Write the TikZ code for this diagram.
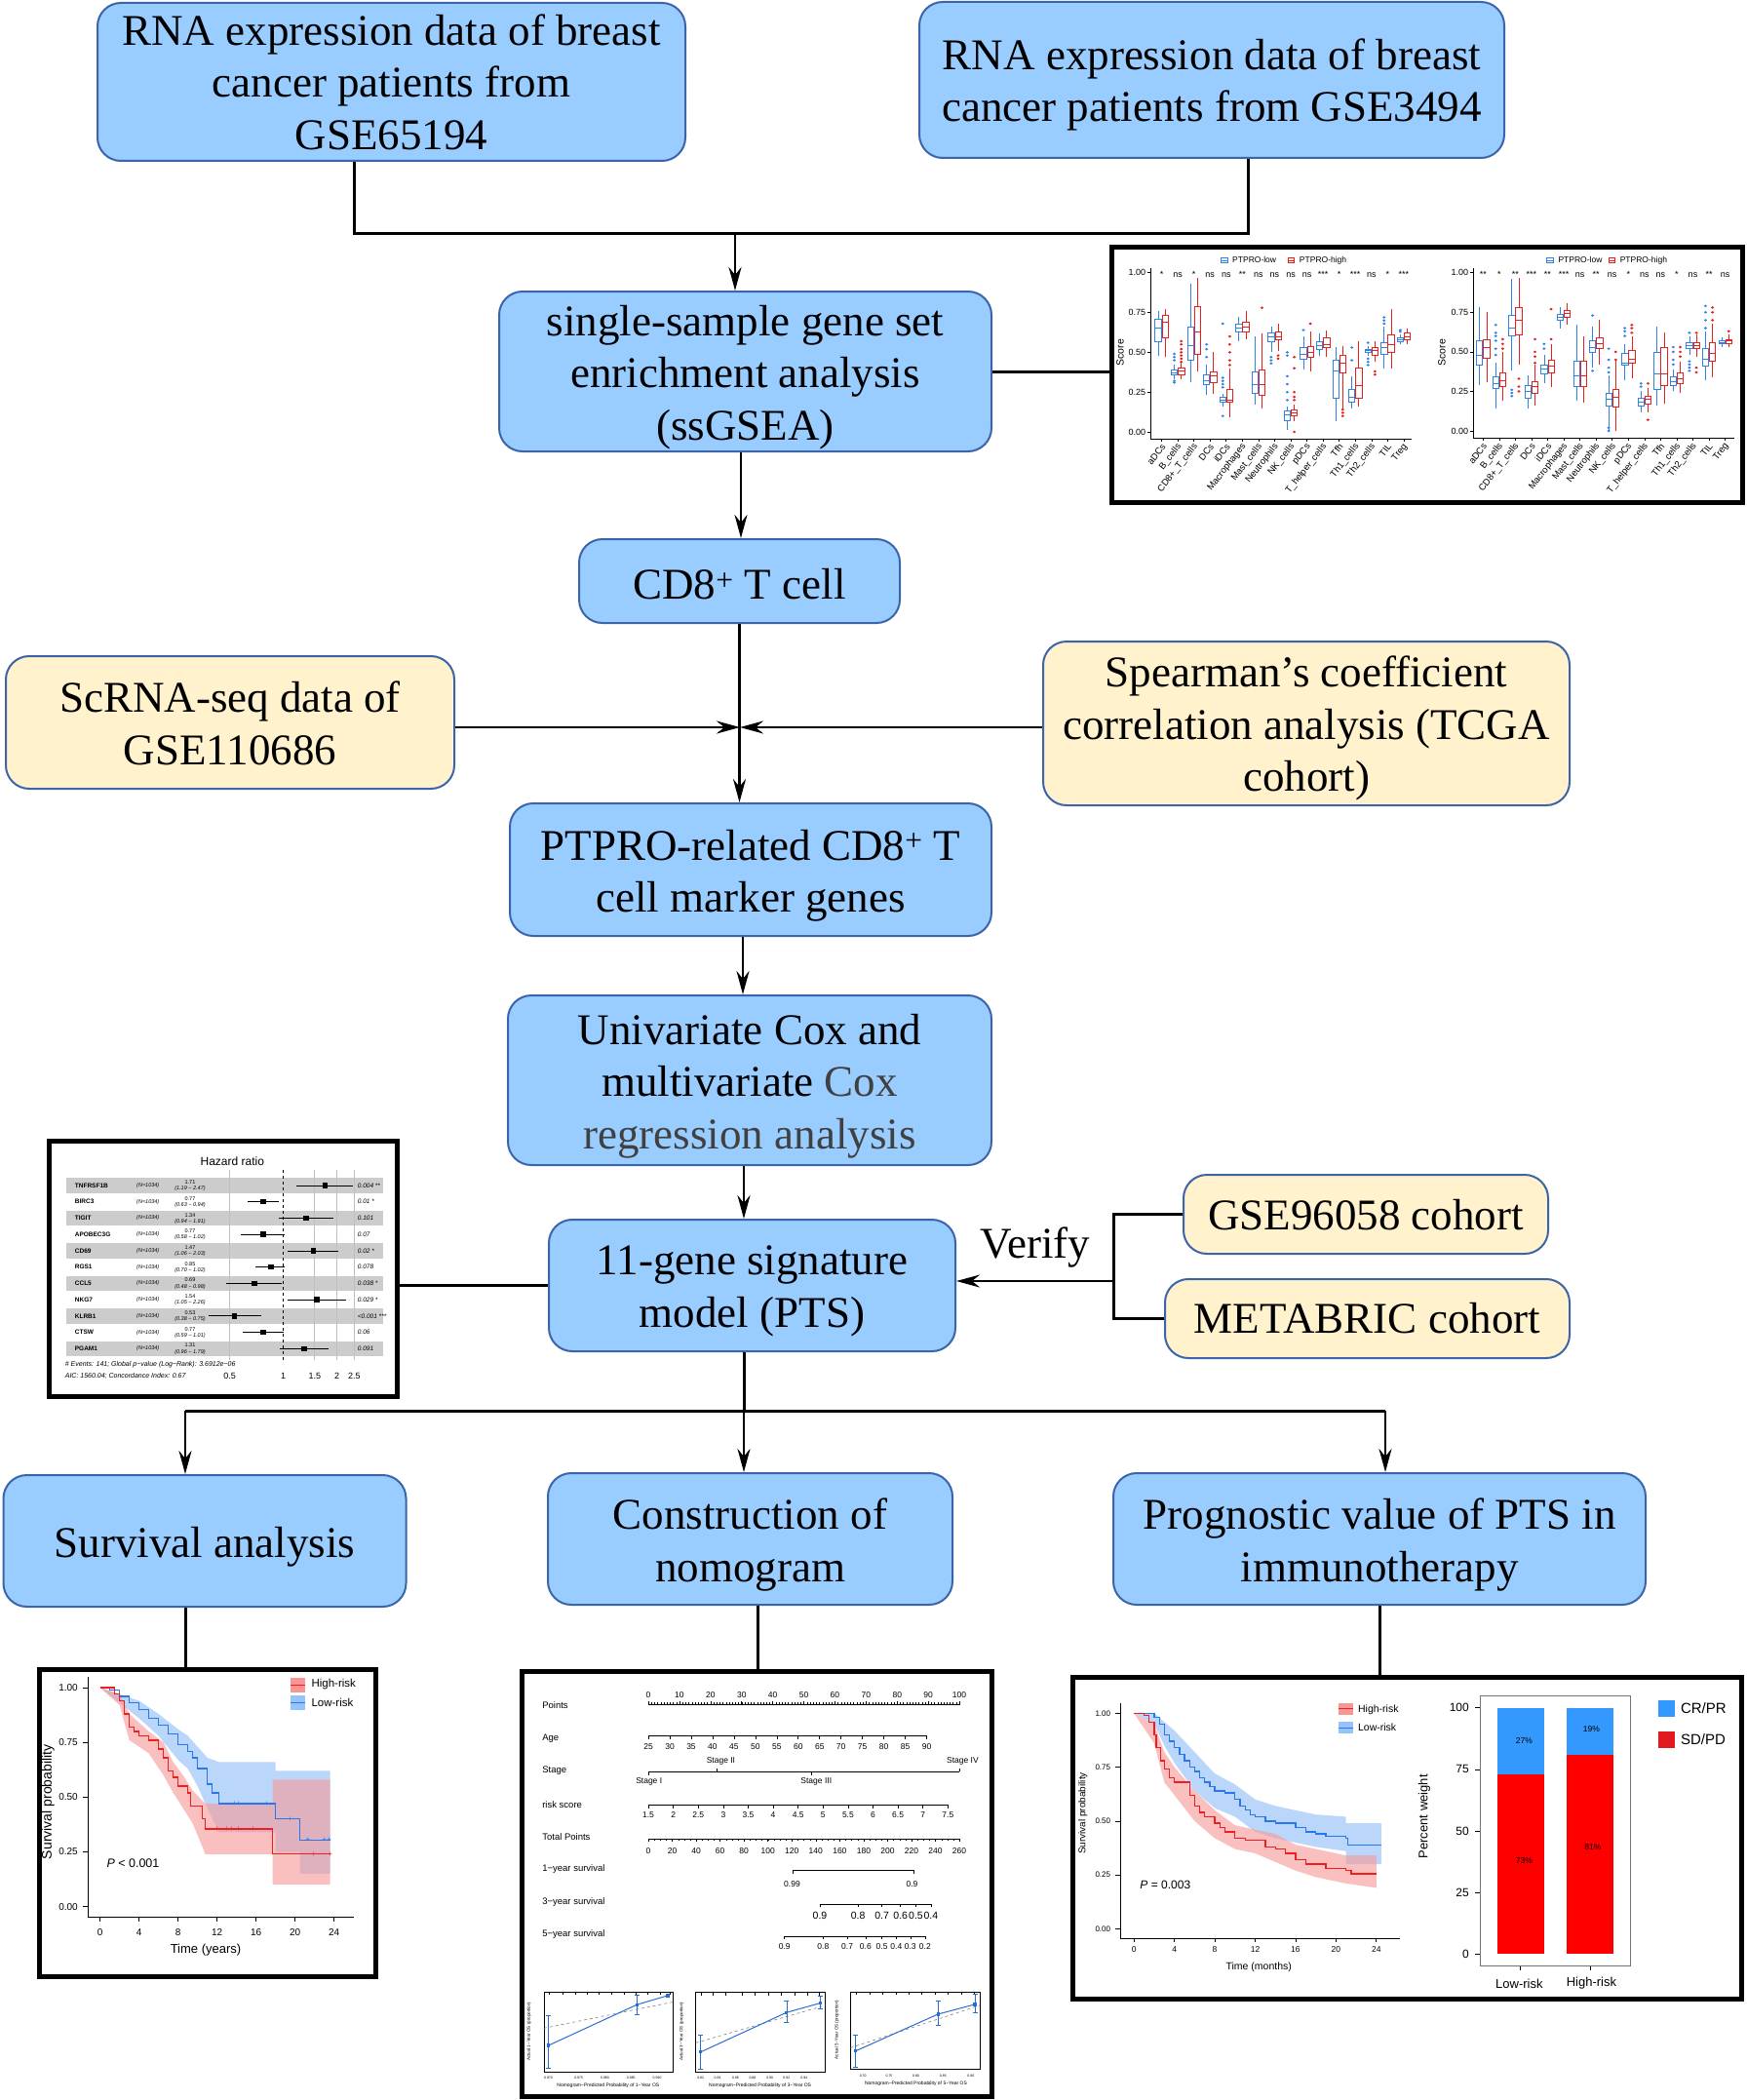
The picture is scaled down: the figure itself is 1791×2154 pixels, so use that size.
\documentclass[tikz,border=0pt]{standalone}
\usepackage{fontspec}
\setmainfont{Liberation Serif}
\newfontfamily\arial{Liberation Sans}
\usetikzlibrary{arrows.meta,calc}
\definecolor{blufill}{RGB}{153,204,255}
\definecolor{yelfill}{RGB}{255,242,204}
\definecolor{bordc}{RGB}{59,100,170}
\definecolor{txtgray}{RGB}{64,64,64}
\definecolor{kmred}{RGB}{240,30,30}
\definecolor{kmblue}{RGB}{40,120,235}
\definecolor{bandred}{RGB}{248,150,150}
\definecolor{bandblue}{RGB}{150,195,250}
\definecolor{barblue}{RGB}{51,153,255}
\definecolor{barred}{RGB}{255,0,0}
\definecolor{sdred}{RGB}{225,25,30}
\definecolor{bplow}{RGB}{50,130,230}
\definecolor{bphigh}{RGB}{235,30,30}
\definecolor{calblue}{RGB}{40,110,210}
\newcommand{\fs}[1]{\fontsize{#1}{#1}\selectfont}
\newcommand{\bxp}[7]{%
  \draw[#1,line width=0.7pt] (#2,{\yz-#6/100*\ys}) -- (#2,{\yz-#4/100*\ys});
  \draw[#1,line width=0.7pt] (#2,{\yz-#5/100*\ys}) -- (#2,{\yz-#7/100*\ys});
  \draw[#1,line width=0.7pt,fill=white] ({#2-7.5},{\yz-#4/100*\ys}) rectangle ({#2+7.5},{\yz-#5/100*\ys});
  \draw[#1,line width=1pt] ({#2-7.5},{\yz-#3/100*\ys}) -- ({#2+7.5},{\yz-#3/100*\ys});}
\begin{document}
\begin{tikzpicture}[x=1pt,y=-1pt,
  flow/.style={draw=bordc, line width=2pt, rounded corners=24pt, inner sep=0pt},
  lbl/.style={align=center, inner sep=0pt, font=\fontsize{45}{53.5}\selectfont, yshift=-6pt},
  bluebox/.style={flow, fill=blufill},
  yelbox/.style={flow, fill=yelfill},
  conn/.style={line width=3pt, black},
  arr/.style={line width=2.6pt, black, -{Stealth[length=24pt,width=13pt,inset=8pt]}},
  inset/.style={draw=black, line width=5pt, fill=white, inner sep=0pt}]
\useasboundingbox (0,0) rectangle (1791,2154);
\fill[white] (0,0) rectangle (1791,2154);

% ---------------- flow nodes
\node[bluebox, minimum width=603pt, minimum height=162pt, label={[lbl,yshift=6pt]center:{RNA expression data of breast\\cancer patients from\\GSE65194}}] (A) at (401.5,84) {};
\node[bluebox, minimum width=600pt, minimum height=160pt, label={[lbl,yshift=1pt]center:{RNA expression data of breast\\cancer patients from GSE3494}}] (B) at (1243,82) {};
\node[bluebox, minimum width=505pt, minimum height=164pt, label={[lbl]center:{single-sample gene set\\enrichment analysis\\(ssGSEA)}}] (ss) at (764.5,381) {};
\node[bluebox, minimum width=329pt, minimum height=86pt, label={[lbl,yshift=3pt]center:{CD8\textsuperscript{+} T cell}}] (cd8) at (758.5,596) {};
\node[yelbox, minimum width=460pt, minimum height=136pt, label={[lbl,yshift=5pt]center:{ScRNA-seq data of\\GSE110686}}] (sc) at (236,741) {};
\node[yelbox, minimum width=540pt, minimum height=168pt, label={[lbl,yshift=1pt]center:{Spearman’s coefficient\\correlation analysis (TCGA\\cohort)}}] (sp) at (1340,742) {};
\node[bluebox, minimum width=494pt, minimum height=136pt, label={[lbl]center:{PTPRO-related CD8\textsuperscript{+} T\\cell marker genes}}] (ptpro) at (770,892) {};
\node[bluebox, minimum width=496pt, minimum height=174pt, label={[lbl]center:{Univariate Cox and\\multivariate \textcolor{txtgray}{Cox}\\\textcolor{txtgray}{regression analysis}}}] (uni) at (769,1108) {};
\node[bluebox, minimum width=417pt, minimum height=135pt, label={[lbl]center:{11-gene signature\\model (PTS)}}] (gene) at (771.5,1318.5) {};
\node[yelbox, minimum width=374pt, minimum height=81pt, label={[lbl,yshift=5pt]center:{GSE96058 cohort}}] (g96) at (1401,1245.5) {};
\node[yelbox, minimum width=415pt, minimum height=81pt, label={[lbl,yshift=6pt]center:{METABRIC cohort}}] (meta) at (1402.5,1352.5) {};
\node[font=\fontsize{45}{53.5}\selectfont, inner sep=0pt] (verify) at (1062,1279) {Verify};
\node[bluebox, minimum width=413pt, minimum height=135pt, label={[lbl]center:{Survival analysis}}] (surv) at (210,1580.5) {};
\node[bluebox, minimum width=415pt, minimum height=135pt, label={[lbl]center:{Construction of\\nomogram}}] (cons) at (769.5,1578.5) {};
\node[bluebox, minimum width=546pt, minimum height=135pt, label={[lbl]center:{Prognostic value of PTS in\\immunotherapy}}] (prog) at (1415,1578.5) {};

% ---------------- inset frames
\node[inset, minimum width=647pt, minimum height=262pt] (bp) at (1464,384) {};
\node[inset, minimum width=357pt, minimum height=262pt] (fp) at (228.5,1301) {};
\node[inset, minimum width=345pt, minimum height=315pt] (km) at (212.5,1869.5) {};
\node[inset, minimum width=482pt, minimum height=436pt] (nomo) at (776,1932) {};
\node[inset, minimum width=686pt, minimum height=330pt] (imm) at (1443,1885) {};

% ---------------- box plot inset
\begin{scope}[shift={(1130,245)},xscale=0.4216,yscale=0.3311,font=\arial\fs{9}]
 \def\yz{598}\def\ys{493}
 \draw[line width=0.6pt] (120,90) -- (120,620) -- (755,620);
 \foreach \v/\l in {0/0.00,25/0.25,50/0.50,75/0.75,100/1.00} {
   \draw[line width=0.6pt] (112,{\yz-\v/100*\ys}) -- (120,{\yz-\v/100*\ys});
   \node[anchor=east,inner sep=1pt] at (110,{\yz-\v/100*\ys}) {\l};}
 \foreach \i in {0,...,15} \draw[line width=0.6pt] ({146+\i*39.27},620) -- ({146+\i*39.27},628);
 \foreach \i/\ua/\ub/\uc/\ud/\uf/\ha/\hb/\hc/\hd/\hf in {
  0/65/57/71/48/76/69/59/73/47/77, 1/37/36/39/33/42/38/36/40/33/44,
  2/54/45/66/31/93/63/49/79/38/97, 3/32/30/36/23/42/35/31/38/24/50,
  4/20/19/22/16/24/20/19/27/9/40, 5/65/63/68/57/72/66/63/69/58/76,
  6/30/24/38/17/60/30/23/39/15/62, 7/60/57/62/50/66/60/58/63/51/68,
  8/11/7/13/1/16/12/10/14/7/17, 9/49/46/53/39/60/50/47/54/38/63,
  10/54/52/57/48/62/55/53/59/47/64, 11/38/21/45/7/53/43/37/48/14/54,
  12/22/19/27/15/35/29/21/40/16/57, 13/51/50/52/48/54/51/48/53/44/57,
  14/53/49/56/40/66/55/50/61/40/77, 15/58/57/59/55/61/60/58/62/55/65} {
   \pgfmathsetmacro\xa{146+\i*39.27-8.5}
   \pgfmathsetmacro\xb{146+\i*39.27+8.5}
   \bxp{bplow}{\xa}{\ua}{\ub}{\uc}{\ud}{\uf}
   \bxp{bphigh}{\xb}{\ha}{\hb}{\hc}{\hd}{\hf}}
 \foreach \i/\lst in {1/{31,32,45,47,49},3/{47,52,55},4/{10,28,30,32,34,68},7/{43,45,47},8/{20,25,30,35,48,50},9/{64},12/{45,53},13/{42,44,46,56},14/{68,70,72},15/{63,64}}
   \foreach \v in \lst \fill[bplow] ({146+\i*39.27-8.5},{\yz-\v/100*\ys}) circle[radius=4];
 \foreach \i/\lst in {1/{44,46,48,50,52,55,57},4/{42,45,50,55,60},6/{78},7/{46,48},8/{0,20,22,25,40,47},9/{68},11/{10,12,14},13/{36,38}}
   \foreach \v in \lst \fill[bphigh] ({146+\i*39.27+8.5},{\yz-\v/100*\ys}) circle[radius=4];
 \foreach \i/\tx in {0/*,1/ns,2/*,3/ns,4/ns,5/**,6/ns,7/ns,8/ns,9/ns,10/***,11/*,12/***,13/ns,14/*,15/***}
   \node[anchor=base] at ({146+\i*39.27},118) {\tx};
 \foreach \i/\tx in {0/aDCs,1/B\_cells,2/CD8+\_T\_cells,3/DCs,4/iDCs,5/Macrophages,6/Mast\_cells,7/Neutrophils,8/NK\_cells,9/pDCs,10/T\_helper\_cells,11/Tfh,12/Th1\_cells,13/Th2\_cells,14/TIL,15/Treg}
   \node[rotate=52,anchor=east,inner sep=1pt,font=\arial\fs{9.5}] at ({146+\i*39.27+6},636) {\tx};
 \node[rotate=90,font=\arial\fs{10.5}] at (45,352) {Score};
 \draw[bplow,line width=0.7pt] (290,57) rectangle (306,75); \draw[bplow] (290,66) -- (306,66);
 \node[anchor=west,font=\arial\fs{8.5}] at (310,66) {PTPRO-low};
 \draw[bphigh,line width=0.7pt] (453,57) rectangle (469,75); \draw[bphigh] (453,66) -- (469,66);
 \node[anchor=west,font=\arial\fs{8.5}] at (473,66) {PTPRO-high};
 % right panel
 \def\yz{595}\def\ys{490}
 \draw[line width=0.6pt] (905,90) -- (905,618) -- (1540,618);
 \foreach \v/\l in {0/0.00,25/0.25,50/0.50,75/0.75,100/1.00} {
   \draw[line width=0.6pt] (897,{\yz-\v/100*\ys}) -- (905,{\yz-\v/100*\ys});
   \node[anchor=east,inner sep=1pt] at (895,{\yz-\v/100*\ys}) {\l};}
 \foreach \i in {0,...,15} \draw[line width=0.6pt] ({928+\i*39.27},618) -- ({928+\i*39.27},626);
 \foreach \i/\ua/\ub/\uc/\ud/\uf/\ha/\hb/\hc/\hd/\hf in {
  0/48/42/57/29/78/53/46/58/31/75, 1/30/27/34/14/43/32/28/37/19/50,
  2/65/60/73/38/96/70/61/78/42/97, 3/25/21/29/14/35/28/24/31/16/42,
  4/39/36/42/30/48/41/37/45/28/55, 5/72/70/74/65/78/74/72/76/67/81,
  6/35/28/44/19/67/35/28/44/18/60, 7/53/50/57/40/66/55/52/59/42/70,
  8/20/16/24/0/35/21/15/26/0/45, 9/43/42/49/32/55/45/43/51/33/60,
  10/18/16/21/12/25/20/17/22/12/27, 11/36/26/50/16/66/36/29/53/17/62,
  12/31/29/34/25/39/33/30/37/24/44, 13/54/52/56/48/60/54/52/56/47/61,
  14/45/41/52/32/63/49/44/56/34/68, 15/56/55/57/53/59/57/55/58/53/61} {
   \pgfmathsetmacro\xa{928+\i*39.27-8.5}
   \pgfmathsetmacro\xb{928+\i*39.27+8.5}
   \bxp{bplow}{\xa}{\ua}{\ub}{\uc}{\ud}{\uf}
   \bxp{bphigh}{\xb}{\ha}{\hb}{\hc}{\hd}{\hf}}
 \foreach \i/\lst in {1/{48,52,57,60,62,67},2/{22,24,26},4/{52,55},7/{38,73},8/{0,2,37,40,45,52},9/{60,63,65},10/{28,30},12/{42,45,50,53},13/{38,40,42,44,62},14/{65,70,75,79}}
   \foreach \v in \lst \fill[bplow] ({928+\i*39.27-8.5},{\yz-\v/100*\ys}) circle[radius=4];
 \foreach \i/\lst in {1/{52,55,58},2/{25,28,33},3/{43,47,50,58},4/{58,77},8/{45,50},9/{62,65,67},10/{7,30},12/{47,50,53},13/{37,40,62},14/{70,75,78},15/{63}}
   \foreach \v in \lst \fill[bphigh] ({928+\i*39.27+8.5},{\yz-\v/100*\ys}) circle[radius=4];
 \foreach \i/\tx in {0/**,1/*,2/**,3/***,4/**,5/***,6/ns,7/**,8/ns,9/*,10/ns,11/ns,12/*,13/ns,14/**,15/ns}
   \node[anchor=base] at ({928+\i*39.27},118) {\tx};
 \foreach \i/\tx in {0/aDCs,1/B\_cells,2/CD8+\_T\_cells,3/DCs,4/iDCs,5/Macrophages,6/Mast\_cells,7/Neutrophils,8/NK\_cells,9/pDCs,10/T\_helper\_cells,11/Tfh,12/Th1\_cells,13/Th2\_cells,14/TIL,15/Treg}
   \node[rotate=52,anchor=east,inner sep=1pt,font=\arial\fs{9.5}] at ({928+\i*39.27+6},634) {\tx};
 \node[rotate=90,font=\arial\fs{10.5}] at (828,352) {Score};
 \draw[bplow,line width=0.7pt] (1083,57) rectangle (1099,75); \draw[bplow] (1083,66) -- (1099,66);
 \node[anchor=west,font=\arial\fs{8.5}] at (1103,66) {PTPRO-low};
 \draw[bphigh,line width=0.7pt] (1233,57) rectangle (1249,75); \draw[bphigh] (1233,66) -- (1249,66);
 \node[anchor=west,font=\arial\fs{8.5}] at (1253,66) {PTPRO-high};
\end{scope}

% ---------------- forest plot inset
\begin{scope}[shift={(45,1165)},scale=0.33333,font=\arial]
 \node[font=\arial\fs{12}] at (580,78) {Hazard ratio};
 \foreach \k in {0,2,4,6,8,10} \fill[black!20] (68,{153+50.2*\k-23}) rectangle (1045,{153+50.2*\k+23});
 \foreach \v in {0.5,1.5,2,2.5} \draw[black!25,line width=0.8pt] ({737+238.2*ln(\v)},105) -- ({737+238.2*ln(\v)},690);
 \draw[dashed,line width=0.6pt] (737,105) -- (737,690);
 \foreach \k/\g/\h/\lo/\hh/\pv in {0/TNFRSF1B/1.71/1.19/2.47/0.004 **,1/BIRC3/0.77/0.63/0.94/0.01 *,2/TIGIT/1.34/0.94/1.91/0.101,3/APOBEC3G/0.77/0.58/1.02/0.07,4/CD69/1.47/1.06/2.03/0.02 *,5/RGS1/0.85/0.70/1.02/0.078,6/CCL5/0.69/0.48/0.98/0.038 *,7/NKG7/1.54/1.05/2.26/0.029 *,8/KLRB1/0.53/0.38/0.75/<0.001 ***,9/CTSW/0.77/0.59/1.01/0.06,10/PGAM1/1.31/0.96/1.79/0.091} {
   \pgfmathsetmacro\yy{153+50.2*\k}
   \node[anchor=west,font=\arial\bfseries\fs{6.5}] at (85,\yy) {\g};
   \node[anchor=west,font=\arial\itshape\fs{5.5}] at (275,\yy) {(N=1034)};
   \node[font=\arial\fs{5.5}] at (450,{\yy-10}) {\h};
   \node[font=\arial\itshape\fs{5.5}] at (450,{\yy+10}) {(\lo\ − \hh)};
   \draw[line width=0.8pt] ({737+238.2*ln(\lo)},\yy) -- ({737+238.2*ln(\hh)},\yy);
   \node[fill=black,minimum size=5.5pt,inner sep=0pt] at ({737+238.2*ln(\h)},\yy) {};
   \node[anchor=west,font=\arial\itshape\fs{6.5}] at (955,\yy) {\pv};}
 \node[anchor=west,font=\arial\itshape\fs{7}] at (55,705) {\# Events: 141; Global p−value (Log−Rank): 3.6912e−06};
 \node[anchor=west,font=\arial\itshape\fs{7}] at (55,740) {AIC: 1560.04; Concordance Index: 0.67};
 \foreach \v in {0.5,1,1.5,2,2.5} \node[font=\arial\fs{9}] at ({737+238.2*ln(\v)},738) {\v};
\end{scope}

% ---------------- KM survival (years)
\begin{scope}[shift={(30,1705)},scale=0.33333,font=\arial]
 \begin{scope}[shift={(218,752)},xscale=30,yscale=-674]
  \fill[bandblue,opacity=0.65] (0,1) -- (4,.94) -- (6,.88) -- (8,.81) -- (9,.78) -- (10,.73) -- (11,.68) -- (12.2,.66) -- (18,.66) -- (18,.62) -- (23.6,.62) -- (23.6,.15) -- (20.5,.15) -- (20.5,.25) -- (18,.25) -- (18,.34) -- (12.2,.34) -- (11,.45) -- (10,.55) -- (9,.63) -- (8,.67) -- (6,.78) -- (4,.86) -- cycle;
  \fill[bandred,opacity=0.6] (0,1) -- (2,.97) -- (3,.88) -- (5,.80) -- (6.5,.75) -- (7.5,.66) -- (8.5,.60) -- (9.5,.53) -- (10.8,.47) -- (17.7,.47) -- (17.7,.58) -- (23.6,.58) -- (23.6,.10) -- (17.7,.10) -- (17.7,.24) -- (10.8,.24) -- (9.5,.38) -- (8.5,.45) -- (7.5,.52) -- (6.5,.60) -- (5,.70) -- (3,.76) -- (2,.92) -- cycle;
  \draw[kmblue,line width=1.3pt] plot[const plot] coordinates {(0,1) (1,.99) (2,.96) (3,.93) (4,.90) (5,.86) (6,.83) (7,.79) (8,.74) (9,.71) (9.5,.68) (10,.63) (11,.56) (11.5,.52) (12.2,.47) (18,.40) (20.5,.305) (23.6,.305)};
  \draw[kmred,line width=1.3pt] plot[const plot] coordinates {(0,1) (1.5,.97) (2,.94) (2.5,.88) (3,.82) (3.5,.80) (4,.78) (5,.76) (6,.72) (6.5,.68) (7,.62) (7.5,.59) (8,.55) (9,.52) (9.3,.46) (10.5,.40) (10.8,.355) (17.7,.24) (23.6,.24)};
  \foreach \p in {(12,.355),(13,.355),(13.5,.355),(14.2,.355),(15.7,.355),(21.9,.24),(23.6,.24)} \node[text=kmred,font=\arial\fs{8},inner sep=0pt] at \p {+};
  \foreach \p in {(13.8,.47),(14.2,.47),(17.1,.47),(19.5,.40),(21.3,.305),(23,.305),(23.5,.305)} \node[text=kmblue,font=\arial\fs{8},inner sep=0pt] at \p {+};
 \end{scope}
 \draw[line width=0.6pt] (180,45) -- (180,785) -- (1000,785);
 \foreach \v/\l in {0/0.00,0.25/0.25,0.5/0.50,0.75/0.75,1/1.00} {
   \draw[line width=0.6pt] (166,{752-674*\v}) -- (180,{752-674*\v});
   \node[anchor=east,font=\arial\fs{10}] at (160,{752-674*\v}) {\l};}
 \foreach \tm in {0,4,...,24} {\draw[line width=0.6pt] ({218+30*\tm},785) -- ({218+30*\tm},799); \node[font=\arial\fs{10}] at ({218+30*\tm},832) {\tm};}
 \node[font=\arial\fs{13}] at (543,885) {Time (years)};
 \node[rotate=90,font=\arial\fs{14}] at (58,430) {Survival probability};
 \node[anchor=west,font=\arial\fs{12.5}] at (228,620) {\textit{P} < 0.001};
 \fill[bandred] (805,48) rectangle (850,92); \draw[kmred,line width=1.3pt] (805,70) -- (850,70);
 \node[anchor=west,font=\arial\fs{11.5}] at (858,68) {High-risk};
 \fill[bandblue] (805,103) rectangle (850,147); \draw[kmblue,line width=1.3pt] (805,125) -- (850,125);
 \node[anchor=west,font=\arial\fs{11.5}] at (858,125) {Low-risk};
\end{scope}

% ---------------- nomogram
\begin{scope}[shift={(530,1705)},scale=0.3351,font=\arial]
 \tikzset{nl/.style={anchor=west,font=\arial\fs{9.5}}, nt/.style={font=\arial\fs{8.5}}}
 \node[nl] at (68,133) {Points};
 \draw[line width=0.6pt] (403,130) -- (1355,130);
 \foreach \k in {0,...,100} \draw[line width=0.4pt] ({403+9.52*\k},130) -- ({403+9.52*\k},123);
 \foreach \k in {0,10,...,100} {\draw[line width=0.6pt] ({403+9.52*\k},130) -- ({403+9.52*\k},118); \node[nt] at ({403+9.52*\k},100) {\k};}
 \node[nl] at (68,232) {Age};
 \draw[line width=0.6pt] (403,225) -- (1255,225);
 \foreach \k in {0,...,13} {\pgfmathtruncatemacro\lab{25+5*\k}\draw[line width=0.6pt] ({403+65.54*\k},225) -- ({403+65.54*\k},235); \node[nt] at ({403+65.54*\k},258) {\lab};}
 \node[nl] at (68,333) {Stage};
 \draw[line width=0.6pt] (403,335) -- (1355,335);
 \draw[line width=0.6pt] (403,335) -- (403,345) (903,335) -- (903,345) (613,335) -- (613,325) (1355,335) -- (1355,325);
 \node[nt] at (405,365) {Stage I}; \node[nt] at (625,303) {Stage II};
 \node[nt] at (917,365) {Stage III}; \node[nt] at (1365,303) {Stage IV};
 \node[nl] at (68,435) {risk score};
 \draw[line width=0.6pt] (403,437) -- (1320,437);
 \foreach \k/\lab in {0/1.5,1/2,2/2.5,3/3,4/3.5,5/4,6/4.5,7/5,8/5.5,9/6,10/6.5,11/7,12/7.5} {\draw[line width=0.6pt] ({403+76.42*\k},437) -- ({403+76.42*\k},447); \node[nt] at ({403+76.42*\k},468) {\lab};}
 \node[nl] at (68,535) {Total Points};
 \draw[line width=0.6pt] (403,540) -- (1355,540);
 \foreach \k in {0,...,52} \draw[line width=0.4pt] ({403+18.31*\k},540) -- ({403+18.31*\k},546);
 \foreach \k in {0,...,13} {\pgfmathtruncatemacro\lab{20*\k}\draw[line width=0.6pt] ({403+73.23*\k},540) -- ({403+73.23*\k},550); \node[nt] at ({403+73.23*\k},578) {\lab};}
 \node[nl] at (68,632) {1−year survival};
 \draw[line width=0.6pt] (845,647) -- (845,637) -- (1215,637) -- (1215,647);
 \node[nt] at (843,678) {0.99}; \node[nt] at (1210,678) {0.9};
 \node[nl] at (68,733) {3−year survival};
 \draw[line width=0.6pt] (928,740) -- (1268,740);
 \foreach \xx/\lab in {928/0.9,1045/0.8,1118/0.7,1175/0.6,1222/0.5,1268/0.4} {\draw[line width=0.6pt] (\xx,740) -- (\xx,750); \node[font=\arial\fs{10.5}] at (\xx,776) {\lab};}
 \node[nl] at (68,833) {5−year survival};
 \draw[line width=0.6pt] (820,838) -- (1250,838);
 \foreach \xx/\lab in {820/0.9,938/0.8,1012/0.7,1068/0.6,1118/0.5,1162/0.4,1205/0.3,1250/0.2} {\draw[line width=0.6pt] (\xx,838) -- (\xx,848); \node[nt] at (\xx,870) {\lab};}
 % calibration 1
 \draw[line width=0.5pt] (83,1008) rectangle (478,1255);
 \foreach \xx in {100,140,180,215,250,290,330,365,400,440,470} \draw[line width=0.4pt] (\xx,1008) -- (\xx,1018);
 \draw[gray,dashed,line width=0.6pt] (83,1120) -- (478,1040);
 \draw[calblue,line width=0.5pt] (97,1080) -- (97,1243) (90,1080) -- (104,1080) (90,1243) -- (104,1243) (368,1017) -- (368,1078) (361,1017) -- (375,1017) (361,1078) -- (375,1078);
 \draw[calblue,line width=1pt] (97,1173) -- (368,1048) -- (463,1020);
 \foreach \p in {(97,1173),(368,1048),(463,1020)} \fill[calblue] \p ++(-5,-5) rectangle ++(10,10);
 \foreach \xx/\lab in {97/0.970,190/0.975,270/0.980,350/0.985,430/0.990} \node[font=\arial\fs{3.5}] at (\xx,1272) {\lab};
 \node[rotate=90,font=\arial\fs{4.5}] at (38,1130) {Actual 1−Year OS (proportion)};
 \node[font=\arial\fs{5}] at (280,1297) {Nomogram−Predicted Probability of 1−Year OS};
 % calibration 2
 \draw[line width=0.5pt] (548,1010) rectangle (945,1255);
 \foreach \xx in {565,600,640,690,730,770,810,850,890,925} \draw[line width=0.4pt] (\xx,1010) -- (\xx,1020);
 \draw[gray,dashed,line width=0.6pt] (548,1165) -- (945,1050);
 \draw[calblue,line width=0.5pt] (563,1140) -- (563,1245) (556,1140) -- (570,1140) (556,1245) -- (570,1245) (826,1035) -- (826,1103) (819,1035) -- (833,1035) (819,1103) -- (833,1103) (930,1020) -- (930,1060) (923,1020) -- (937,1020) (923,1060) -- (937,1060);
 \draw[calblue,line width=1pt] (563,1193) -- (826,1072) -- (930,1043);
 \foreach \p in {(563,1193),(826,1072),(930,1043)} \fill[calblue] \p ++(-5,-5) rectangle ++(10,10);
 \foreach \xx/\lab in {563/0.82,615/0.84,670/0.86,722/0.88,775/0.90,826/0.92,880/0.94} \node[font=\arial\fs{3.5}] at (\xx,1272) {\lab};
 \node[rotate=90,font=\arial\fs{4.5}] at (505,1130) {Actual 3−Year OS (proportion)};
 \node[font=\arial\fs{5}] at (745,1295) {Nomogram−Predicted Probability of 3−Year OS};
 % calibration 3
 \draw[line width=0.5pt] (1022,1008) rectangle (1418,1245);
 \foreach \xx in {1040,1080,1120,1160,1200,1240,1280,1320,1360,1400} \draw[line width=0.4pt] (\xx,1008) -- (\xx,1018);
 \draw[gray,dashed,line width=0.6pt] (1022,1180) -- (1418,1050);
 \draw[calblue,line width=0.5pt] (1037,1140) -- (1037,1240) (1030,1140) -- (1044,1140) (1030,1240) -- (1044,1240) (1290,1037) -- (1290,1110) (1283,1037) -- (1297,1037) (1283,1110) -- (1297,1110) (1403,1015) -- (1403,1072) (1396,1015) -- (1410,1015) (1396,1072) -- (1410,1072);
 \draw[calblue,line width=1pt] (1037,1190) -- (1290,1077) -- (1403,1047);
 \foreach \p in {(1037,1190),(1290,1077),(1403,1047)} \fill[calblue] \p ++(-5,-5) rectangle ++(10,10);
 \foreach \xx/\lab in {1060/0.70,1140/0.75,1222/0.80,1305/0.85,1390/0.90} \node[font=\arial\fs{3.5}] at (\xx,1265) {\lab};
 \node[rotate=90,font=\arial\fs{4.5}] at (980,1125) {Actual 5−Year OS (proportion)};
 \node[font=\arial\fs{5}] at (1222,1290) {Nomogram−Predicted Probability of 5−Year OS};
\end{scope}

% ---------------- immunotherapy inset
\begin{scope}[shift={(1095,1705)},xscale=0.449,yscale=0.33333,font=\arial]
 \begin{scope}[shift={(152,820)},xscale=23.06,yscale=-663]
  \fill[bandblue,opacity=0.65] (0,1) -- (2,1) -- (3,.96) -- (4,.92) -- (6,.82) -- (8,.72) -- (10,.67) -- (12,.60) -- (14,.57) -- (16,.55) -- (18,.53) -- (21,.52) -- (21,.49) -- (24.5,.49) -- (24.5,.30) -- (21,.30) -- (21,.36) -- (18,.38) -- (16,.40) -- (14,.42) -- (12,.45) -- (10,.52) -- (8,.56) -- (6,.64) -- (4,.77) -- (3,.85) -- (2,.95) -- cycle;
  \fill[bandred,opacity=0.6] (0,1) -- (2,.95) -- (3,.82) -- (4,.75) -- (6,.64) -- (8,.55) -- (10,.48) -- (12,.46) -- (14,.44) -- (16,.39) -- (18,.37) -- (21,.34) -- (24,.34) -- (24,.19) -- (21,.21) -- (18,.24) -- (16,.27) -- (14,.31) -- (12,.35) -- (10,.37) -- (8,.42) -- (6,.50) -- (4,.62) -- (3,.68) -- (2,.86) -- cycle;
  \draw[kmblue,line width=1.3pt] plot[const plot] coordinates {(0,1) (1.5,1) (2,.98) (2.5,.95) (3,.90) (3.5,.87) (4,.84) (4.5,.81) (5,.78) (5.5,.75) (6,.73) (6.5,.70) (7,.68) (7.5,.66) (8,.64) (9,.63) (10,.60) (10.5,.57) (11,.55) (11.5,.53) (12,.52) (13,.50) (14,.49) (15,.49) (16,.47) (17,.45) (18,.44) (19,.43) (20,.43) (21,.42) (21.2,.39) (24.5,.39)};
  \draw[kmred,line width=1.3pt] plot[const plot] coordinates {(0,1) (1,.99) (1.5,.96) (2,.90) (2.2,.84) (2.6,.78) (3,.74) (3.5,.70) (4,.68) (5,.68) (5.5,.62) (6,.57) (6.5,.54) (7,.52) (8,.49) (8.5,.47) (9,.45) (10,.42) (11,.41) (12,.41) (13,.38) (14,.37) (15,.35) (16,.32) (17,.30) (18,.30) (19,.28) (20,.28) (21,.27) (21.5,.255) (24,.255)};
 \end{scope}
 \draw[line width=0.6pt] (122,125) -- (122,850) -- (760,850);
 \foreach \v/\l in {0/0.00,0.25/0.25,0.5/0.50,0.75/0.75,1/1.00} {
   \draw[line width=0.6pt] (110,{820-663*\v}) -- (122,{820-663*\v});
   \node[anchor=east,font=\arial\fs{8}] at (106,{820-663*\v}) {\l};}
 \foreach \tm in {0,4,...,24} {\draw[line width=0.6pt] ({152+23.06*\tm},850) -- ({152+23.06*\tm},862); \node[font=\arial\fs{8.5}] at ({152+23.06*\tm},885) {\tm};}
 \node[font=\arial\fs{10.5}] at (437,937) {Time (months)};
 \node[rotate=90,font=\arial\fs{10}] at (35,465) {Survival probability};
 \node[anchor=west,font=\arial\fs{12}] at (158,685) {\textit{P} = 0.003};
 \fill[bandred] (618,125) rectangle (652,162); \draw[kmred,line width=1.3pt] (618,143) -- (652,143);
 \node[anchor=west,font=\arial\fs{10.5}] at (656,145) {High-risk};
 \fill[bandblue] (618,183) rectangle (652,220); \draw[kmblue,line width=1.3pt] (618,202) -- (652,202);
 \node[anchor=west,font=\arial\fs{10.5}] at (656,200) {Low-risk};
 % bar chart
 \draw[black!55,line width=0.8pt] (942,103) rectangle (1287,935);
 \foreach \v in {0,25,50,75,100} {\draw[line width=0.6pt] (932,{898-7.58*\v}) -- (942,{898-7.58*\v}); \node[anchor=east,font=\arial\fs{12}] at (925,{898-7.58*\v}) {\v};}
 \fill[barred] (982,898) rectangle (1090,345); \fill[barblue] (982,345) rectangle (1090,140);
 \fill[barred] (1140,898) rectangle (1248,284); \fill[barblue] (1140,284) rectangle (1248,140);
 \node[font=\arial\fs{8.5}] at (1043,243) {27\%}; \node[font=\arial\fs{8.5}] at (1043,610) {73\%};
 \node[font=\arial\fs{8.5}] at (1197,205) {19\%}; \node[font=\arial\fs{8.5}] at (1200,570) {81\%};
 \draw[line width=0.8pt] (1035,935) -- (1035,947) (1195,935) -- (1195,947);
 \node[font=\arial\fs{13}] at (1032,988) {Low-risk};
 \node[font=\arial\fs{13}] at (1197,988) {High-risk};
 \node[rotate=90,font=\arial\fs{13}] at (815,475) {Percent weight};
 \fill[barblue] (1350,118) rectangle (1388,168); \node[anchor=west,font=\arial\fs{15}] at (1393,142) {CR/PR};
 \fill[sdred] (1350,212) rectangle (1388,265); \node[anchor=west,font=\arial\fs{15}] at (1393,238) {SD/PD};
\end{scope}

% ---------------- connectors
\coordinate (j1) at (754,239);
\draw[conn] ([xshift=-38pt]A.south) |- (j1) -| ([xshift=37pt]B.south);
\draw[arr] (j1) -- (j1 |- ss.north);
\draw[conn] (ss.east) -- (ss.east -| bp.west);
\draw[arr] ([xshift=-4.5pt]ss.south) -- ([xshift=-4.5pt]ss.south |- cd8.north);
\coordinate (j2) at (759,746);
\draw[arr] (cd8.south) -- (cd8.south |- ptpro.north);
\draw[arr] (sc.east |- j2) -- (j2);
\draw[arr] (sp.west |- j2) -- (j2);
\draw[arr] ([xshift=-8pt]ptpro.south) -- ([xshift=-8pt]ptpro.south |- uni.north);
\draw[arr] ([xshift=-6pt]uni.south) -- ([xshift=-6pt]uni.south |- gene.north);
\draw[conn] (gene.west) -- (gene.west -| fp.east);
\coordinate (v1) at (1142,1314);
\draw[conn] (g96.west) -| (meta.west -| v1) -- (meta.west);
\draw[arr] (v1) -- (v1 -| gene.east);
\coordinate (j3) at (763,1447);
\coordinate (j3l) at (190,1447);
\coordinate (j3r) at (1421,1447);
\draw[conn] ([xshift=-8.5pt]gene.south) -- (j3);
\draw[conn] (j3l) -- (j3r);
\draw[arr] (j3l) -- (j3l |- surv.north);
\draw[arr] (j3) -- (j3 |- cons.north);
\draw[arr] (j3r) -- (j3r |- prog.north);
\draw[conn] ([xshift=-20pt]surv.south) -- ([xshift=-20pt]surv.south |- km.north);
\draw[conn] ([xshift=7.5pt]cons.south) -- ([xshift=7.5pt]cons.south |- nomo.north);
\draw[conn] (prog.south) -- (prog.south |- imm.north);
\end{tikzpicture}
\end{document}
